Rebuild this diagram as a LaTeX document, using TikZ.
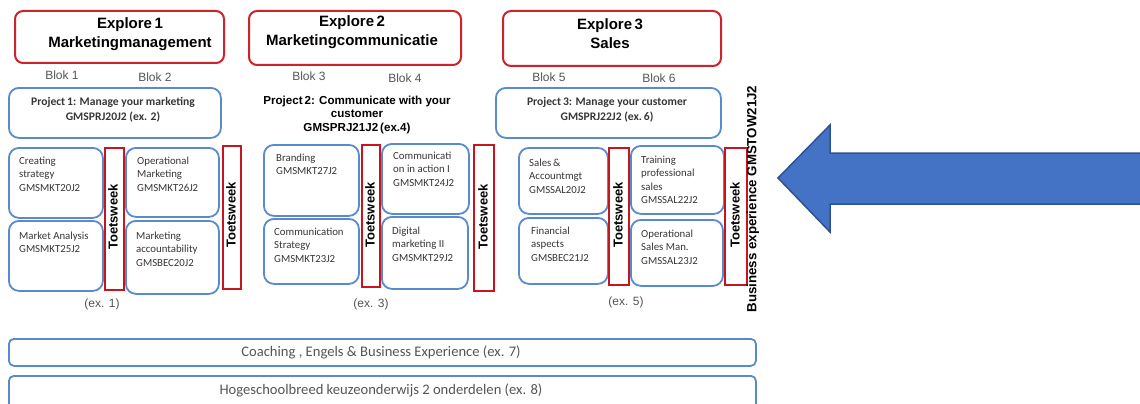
\documentclass[tikz,border=0pt]{standalone}
\usepackage{fontspec}
\setmainfont{Liberation Sans}
\newfontfamily\calib{Carlito}
\newfontfamily\arial{Liberation Sans}
\definecolor{exred}{RGB}{205,35,45}
\definecolor{tred}{RGB}{200,20,30}
\definecolor{cblue}{RGB}{88,138,205}
\definecolor{arrowfill}{HTML}{4472C4}
\definecolor{arrowedge}{HTML}{2F528F}
\definecolor{ctxt}{RGB}{55,55,55}
\definecolor{gtxt}{RGB}{85,85,85}
\begin{document}
\begin{tikzpicture}[x=1pt,y=-1pt,
  redbox/.style={draw=exred,line width=2pt,rounded corners=8pt,anchor=north west,inner sep=0pt},
  bluebox/.style={draw=cblue,line width=1.8pt,rounded corners=10pt,anchor=north west,inner sep=0pt},
  barbox/.style={draw=cblue,line width=1.8pt,rounded corners=5pt,anchor=north west,inner sep=0pt},
  toets/.style={draw=tred,line width=2pt,anchor=north west,inner sep=0pt},
  toetstext/.style={font=\arial\bfseries\fontsize{13}{15}\selectfont,rotate=90,inner sep=0pt},
  extitle/.style={font=\arial\bfseries\fontsize{15}{19}\selectfont,align=center,inner sep=0pt},
  blok/.style={font=\arial\fontsize{12}{14}\selectfont,text=gtxt,inner sep=0pt},
  ctext/.style={font=\calib\fontsize{10.8}{13.2}\selectfont,text=ctxt,align=left,anchor=north west,inner sep=0pt},
  projc/.style={font=\calib\bfseries\fontsize{11.6}{15.5}\selectfont,text=ctxt,align=center,inner sep=0pt},
  exlab/.style={font=\arial\fontsize{12}{14}\selectfont,text=gtxt,inner sep=0pt},
  bartext/.style={font=\calib\fontsize{14.6}{16}\selectfont,text=gtxt,inner sep=0pt}]
\useasboundingbox (0,0) rectangle (1140,404);
\fill[white] (0,0) rectangle (1140,404);

% Explore headers
\node[redbox,minimum width=209pt,minimum height=52pt] (e1) at (14,10) {};
\node[extitle] (e1t) at (130,34) {Explore\,1\\Marketingmanagement};
\node[redbox,minimum width=212pt,minimum height=54pt] (e2) at (248,10) {};
\node[extitle] (e2t) at (352,32) {Explore\,2\\Marketingcommunicatie};
\node[redbox,minimum width=218pt,minimum height=55pt] (e3) at (502,10) {};
\node[extitle] (e3t) at (610,34) {Explore\,3\\Sales};

% Blok labels
\node[blok] (b1) at (62,75) {Blok 1};
\node[blok] (b2) at (155,77) {Blok 2};
\node[blok] (b3) at (309,76) {Blok 3};
\node[blok] (b4) at (405,78) {Blok 4};
\node[blok] (b5) at (549,77) {Blok 5};
\node[blok] (b6) at (659,78) {Blok 6};

% Projects
\node[bluebox,minimum width=212pt,minimum height=50pt] (p1) at (8,87) {};
\node[projc] (p1t) at (113,110) {Project\,1: Manage your marketing\\GMSPRJ20J2 (ex. 2)};
\node[font=\arial\bfseries\fontsize{11.6}{13.5}\selectfont,align=center,inner sep=0pt] (p2t) at (357,115) {Project\,2: Communicate with your\\customer\\GMSPRJ21J2\,(ex.4)};
\node[bluebox,minimum width=225pt,minimum height=50pt] (p3) at (495,87) {};
\node[projc] (p3t) at (607,110) {Project\,3: Manage your customer\\GMSPRJ22J2 (ex.\,6)};

% Explore 1 courses
\node[bluebox,minimum width=94pt,minimum height=70pt] (c1) at (8,147) {};
\node[ctext] (c1t) at (19,157) {Creating\\strategy\\GMSMKT20J2};
\node[bluebox,minimum width=94pt,minimum height=70pt] (c2) at (8,220) {};
\node[ctext] (c2t) at (19,232) {Market Analysis\\GMSMKT25J2};
\node[toets,minimum width=19pt,minimum height=142pt] (t1) at (104,147) {};
\node[toetstext] (t1t) at (113,217) {Toetsweek};
\node[bluebox,minimum width=93pt,minimum height=69pt] (c3) at (125,147) {};
\node[ctext] (c3t) at (137,157) {Operational\\Marketing\\GMSMKT26J2};
\node[bluebox,minimum width=93pt,minimum height=73pt] (c4) at (125,220) {};
\node[ctext] (c4t) at (136,232) {Marketing\\accountability\\GMSBEC20J2};
\node[toets,minimum width=18pt,minimum height=143pt] (t2) at (222,145) {};
\node[toetstext] (t2t) at (231,215) {Toetsweek};
\node[exlab] (x1) at (102,304) {(ex. 1)};

% Explore 2 courses
\node[bluebox,minimum width=95pt,minimum height=71pt] (c5) at (263,144) {};
\node[ctext] (c5t) at (276,154) {Branding\\GMSMKT27J2};
\node[bluebox,minimum width=95pt,minimum height=65pt] (c6) at (263,218) {};
\node[ctext] (c6t) at (274,228) {Communication\\Strategy\\GMSMKT23J2};
\node[toets,minimum width=18pt,minimum height=142pt] (t3) at (361,144) {};
\node[toetstext] (t3t) at (370,215) {Toetsweek};
\node[bluebox,minimum width=87pt,minimum height=70pt] (c7) at (381,143) {};
\node[ctext] (c7t) at (393,152) {Communicati\\on in action I\\GMSMKT24J2};
\node[bluebox,minimum width=86pt,minimum height=72pt] (c8) at (381,216) {};
\node[ctext] (c8t) at (392,227) {Digital\\marketing II\\GMSMKT29J2};
\node[toets,minimum width=20pt,minimum height=146pt] (t4) at (473,144) {};
\node[toetstext] (t4t) at (483,217) {Toetsweek};
\node[exlab] (x3) at (371,304) {(ex. 3)};

% Explore 3 courses
\node[bluebox,minimum width=89pt,minimum height=66pt] (c9) at (518,147) {};
\node[ctext] (c9t) at (529,159) {Sales\,\&\\Accountmgt\\GMSSAL20J2};
\node[bluebox,minimum width=89pt,minimum height=66pt] (c10) at (518,217) {};
\node[ctext] (c10t) at (531,227) {Financial\\aspects\\GMSBEC21J2};
\node[toets,minimum width=20pt,minimum height=137pt] (t5) at (608,147) {};
\node[toetstext] (t5t) at (618,215) {Toetsweek};
\node[bluebox,minimum width=93pt,minimum height=68pt] (c11) at (630,145) {};
\node[ctext] (c11t) at (641,156) {Training\\professional\\sales\\GMSSAL22J2};
\node[bluebox,minimum width=92pt,minimum height=66pt] (c12) at (630,219) {};
\node[ctext] (c12t) at (641,230) {Operational\\Sales Man.\\GMSSAL23J2};
\node[toets,minimum width=22pt,minimum height=137pt] (t6) at (724,147) {};
\node[toetstext] (t6t) at (735,215) {Toetsweek};
\node[exlab] (x5) at (626,302) {(ex. 5)};

\node[font=\arial\bfseries\fontsize{13.3}{15}\selectfont,rotate=90,inner sep=0pt] (bx) at (753,199) {Business experience GMSTOW21J2};

% Bottom bars
\node[barbox,minimum width=747pt,minimum height=27pt] (bar1) at (8,338) {};
\node[bartext] (bar1t) at (381,352) {Coaching , Engels \& Business Experience (ex. 7)};
\node[barbox,minimum width=747pt,minimum height=40pt] (bar2) at (8,375) {};
\node[bartext] (bar2t) at (381,390) {Hogeschoolbreed keuzeonderwijs 2 onderdelen (ex. 8)};

% Big arrow
\draw[fill=arrowfill,draw=arrowedge,line width=1.5pt,line join=miter]
  (778,178) -- (830,125) -- (830,153) -- (1145,153) -- (1145,204) -- (830,204) -- (830,232) -- cycle;
\end{tikzpicture}
\end{document}
